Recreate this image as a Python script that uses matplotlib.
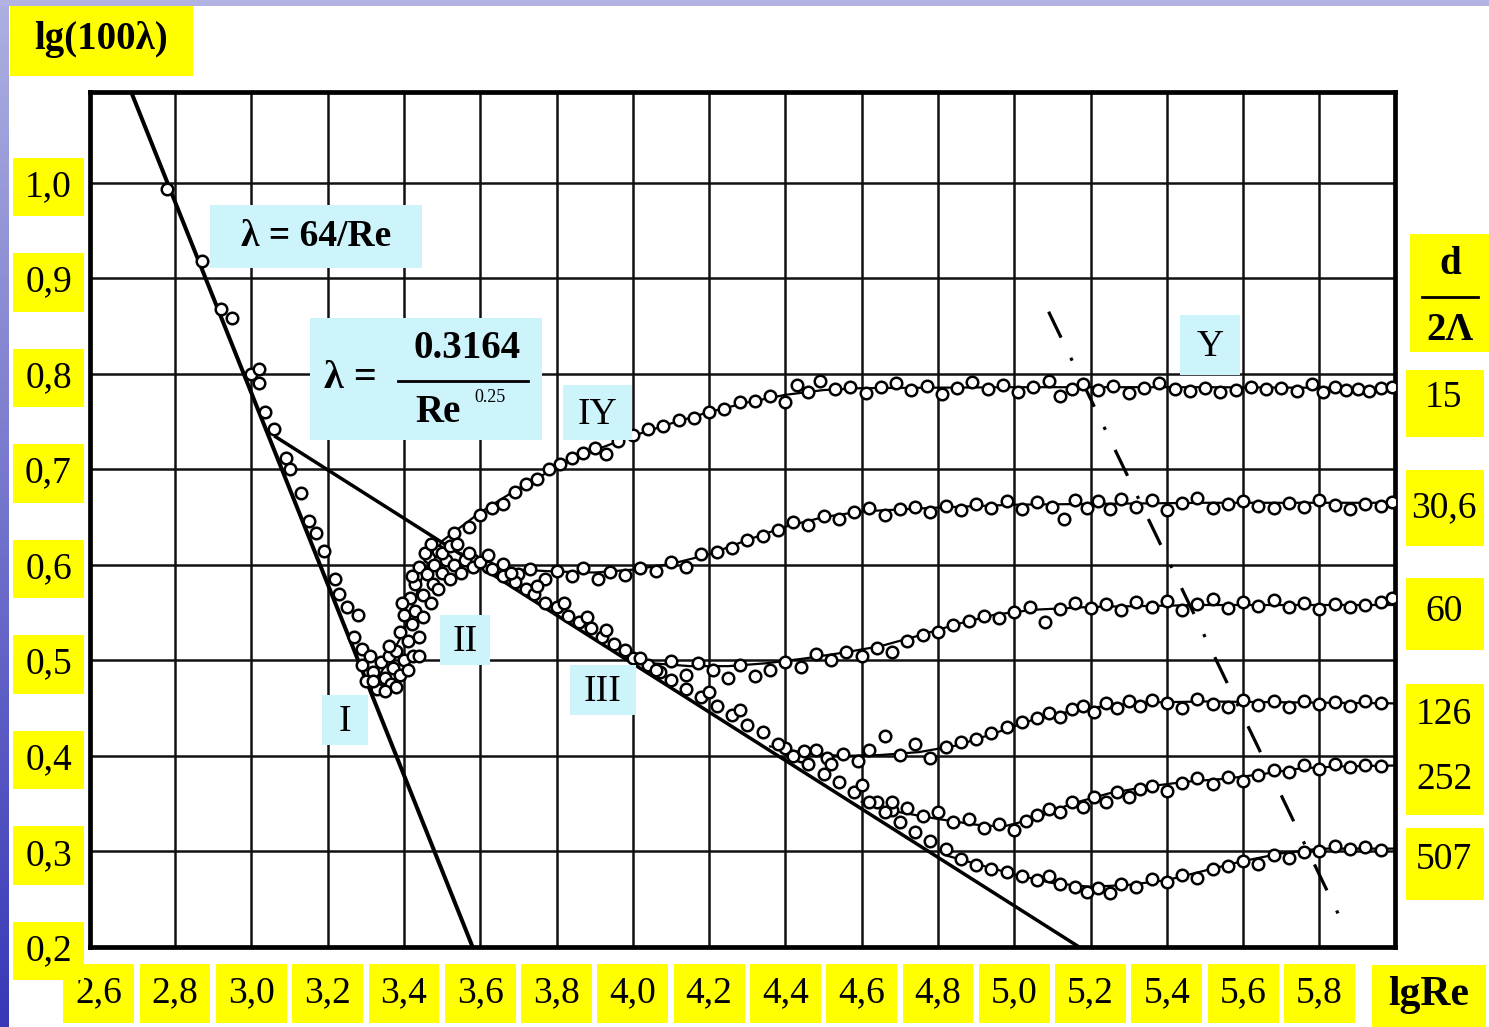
import numpy as np
import matplotlib
matplotlib.use("Agg")
import matplotlib.pyplot as plt

# ---------------- data ----------------
x_ticks = [2.6, 2.8, 3.0, 3.2, 3.4, 3.6, 3.8, 4.0, 4.2, 4.4, 4.6, 4.8, 5.0, 5.2, 5.4, 5.6, 5.8]
x_tick_labels = ["2,6", "2,8", "3,0", "3,2", "3,4", "3,6", "3,8", "4,0", "4,2", "4,4",
                 "4,6", "4,8", "5,0", "5,2", "5,4", "5,6", "5,8"]
y_ticks = [0.2, 0.3, 0.4, 0.5, 0.6, 0.7, 0.8, 0.9, 1.0]
y_tick_labels = ["0,2", "0,3", "0,4", "0,5", "0,6", "0,7", "0,8", "0,9", "1,0"]
grid_x = [2.8, 3.0, 3.2, 3.4, 3.6, 3.8, 4.0, 4.2, 4.4, 4.6, 4.8, 5.0, 5.2, 5.4, 5.6, 5.8]
grid_y = [0.3, 0.4, 0.5, 0.6, 0.7, 0.8, 0.9, 1.0]

# laminar law  lambda = 64/Re
laminar_x = [2.68, 3.58]
laminar_y = [1.10, 0.20]
# Blasius law  lambda = 0.3164/Re^0.25
blasius_x = [3.06, 5.17]
blasius_y = [0.735, 0.20]
# boundary of the quadratic zone (dash-dot)
boundary_x = [5.09, 5.85]
boundary_y = [0.865, 0.234]

# points on the laminar branch
lam_pts_x = [2.78, 2.87, 2.92, 2.95, 3.00, 3.02, 3.02, 3.035, 3.06, 3.09, 3.10, 3.13, 3.15,
             3.17, 3.19, 3.22, 3.23, 3.25, 3.28, 3.27, 3.29]
lam_pts_y = [0.993, 0.918, 0.868, 0.858, 0.800, 0.790, 0.805, 0.760, 0.742, 0.712, 0.700,
             0.675, 0.646, 0.633, 0.615, 0.585, 0.570, 0.556, 0.548, 0.525, 0.512]

# transition zone II points
tr_pts_x = [3.29, 3.30, 3.31, 3.32, 3.33, 3.34, 3.35, 3.36, 3.365, 3.37, 3.38, 3.39, 3.39,
            3.40, 3.40, 3.41, 3.415, 3.42, 3.425, 3.43, 3.43, 3.44, 3.44, 3.45, 3.45, 3.46,
            3.465, 3.47, 3.475, 3.48, 3.49, 3.49, 3.50, 3.51, 3.52, 3.53, 3.55, 3.56, 3.58,
            3.35, 3.38, 3.41, 3.36, 3.44, 3.32, 3.395, 3.42, 3.455, 3.47, 3.50, 3.52]
tr_pts_y = [0.495, 0.478, 0.505, 0.488, 0.470, 0.498, 0.482, 0.505, 0.475, 0.492, 0.510,
            0.485, 0.530, 0.500, 0.548, 0.520, 0.565, 0.538, 0.505, 0.580, 0.552, 0.525,
            0.598, 0.568, 0.545, 0.590, 0.608, 0.560, 0.580, 0.600, 0.615, 0.575, 0.592,
            0.605, 0.585, 0.600, 0.592, 0.605, 0.598, 0.468, 0.472, 0.490, 0.515, 0.505,
            0.478, 0.560, 0.588, 0.612, 0.622, 0.612, 0.620]

# points following the Blasius line
bl_pts_x = [3.54, 3.57, 3.60, 3.63, 3.66, 3.69, 3.72, 3.74, 3.77, 3.80, 3.83, 3.86, 3.89,
            3.92, 3.95, 3.98, 4.02, 4.06, 4.10, 4.14, 4.18, 4.22, 4.26, 4.30, 4.34, 4.38,
            4.42, 4.46, 4.50, 4.54, 4.58, 4.62, 4.66, 4.70, 4.74, 4.78, 4.82,
            3.62, 3.68, 3.75, 3.82, 3.88, 3.93, 4.20, 4.28, 4.45, 4.52, 4.60, 4.68]
bl_pts_y = [0.622, 0.612, 0.603, 0.596, 0.588, 0.582, 0.575, 0.569, 0.560, 0.556, 0.547,
            0.540, 0.534, 0.525, 0.517, 0.511, 0.502, 0.490, 0.480, 0.470, 0.462, 0.452,
            0.443, 0.432, 0.425, 0.413, 0.400, 0.392, 0.381, 0.373, 0.362, 0.352, 0.341,
            0.331, 0.320, 0.311, 0.303,
            0.610, 0.592, 0.578, 0.560, 0.545, 0.532, 0.467, 0.448, 0.405, 0.392, 0.370, 0.352]

# d/2Lambda = 15
c15_line_x = [3.33, 3.40, 3.45, 3.50, 3.60, 3.70, 3.80, 3.90, 4.00, 4.10, 4.20, 4.30, 4.40,
              4.50, 4.60, 5.00, 5.50, 6.00]
c15_line_y = [0.480, 0.530, 0.590, 0.625, 0.655, 0.680, 0.702, 0.720, 0.735, 0.748, 0.760,
              0.770, 0.778, 0.783, 0.785, 0.786, 0.786, 0.785]
c15_x = [3.53, 3.57, 3.60, 3.63, 3.66, 3.69, 3.72, 3.75, 3.78, 3.81, 3.84, 3.87, 3.90, 3.93,
         3.96, 4.00, 4.04, 4.08, 4.12, 4.16, 4.20, 4.24, 4.28, 4.32, 4.36, 4.40, 4.43, 4.46,
         4.49, 4.53, 4.57, 4.61, 4.65, 4.69, 4.73, 4.77, 4.81, 4.85, 4.89, 4.93, 4.97, 5.01,
         5.05, 5.09, 5.12, 5.15, 5.18, 5.22, 5.26, 5.30, 5.34, 5.38, 5.42, 5.46, 5.50, 5.54,
         5.58, 5.62, 5.66, 5.70, 5.74, 5.78, 5.81, 5.84, 5.87, 5.90, 5.93, 5.96, 5.99]
c15_y = [0.633, 0.640, 0.652, 0.660, 0.664, 0.676, 0.685, 0.690, 0.700, 0.706, 0.712, 0.717,
         0.722, 0.716, 0.730, 0.736, 0.742, 0.745, 0.752, 0.754, 0.760, 0.763, 0.770, 0.772,
         0.777, 0.770, 0.788, 0.781, 0.792, 0.784, 0.786, 0.780, 0.786, 0.790, 0.783, 0.787,
         0.779, 0.785, 0.791, 0.784, 0.788, 0.781, 0.786, 0.792, 0.777, 0.784, 0.789, 0.783,
         0.787, 0.780, 0.785, 0.790, 0.784, 0.782, 0.785, 0.781, 0.783, 0.786, 0.784, 0.785,
         0.782, 0.789, 0.781, 0.786, 0.783, 0.784, 0.782, 0.785, 0.786]

# d/2Lambda = 30,6
c30_line_x = [3.55, 3.60, 3.70, 3.80, 3.90, 4.00, 4.10, 4.20, 4.30, 4.40, 4.50, 4.60, 4.80,
              5.00, 5.50, 6.00]
c30_line_y = [0.612, 0.600, 0.595, 0.593, 0.592, 0.595, 0.601, 0.611, 0.626, 0.640, 0.650,
              0.656, 0.660, 0.663, 0.665, 0.665]
c30_x = [3.58, 3.62, 3.66, 3.70, 3.73, 3.77, 3.80, 3.84, 3.87, 3.91, 3.94, 3.98, 4.02, 4.06,
         4.10, 4.14, 4.18, 4.22, 4.26, 4.30, 4.34, 4.38, 4.42, 4.46, 4.50, 4.54, 4.58, 4.62,
         4.66, 4.70, 4.74, 4.78, 4.82, 4.86, 4.90, 4.94, 4.98, 5.02, 5.06, 5.10, 5.13, 5.16,
         5.19, 5.22, 5.25, 5.28, 5.32, 5.36, 5.40, 5.44, 5.48, 5.52, 5.56, 5.60, 5.64, 5.68,
         5.72, 5.76, 5.80, 5.84, 5.88, 5.92, 5.96, 5.99]
c30_y = [0.605, 0.598, 0.601, 0.590, 0.596, 0.585, 0.594, 0.588, 0.597, 0.585, 0.593, 0.589,
         0.597, 0.594, 0.603, 0.598, 0.611, 0.613, 0.618, 0.626, 0.630, 0.637, 0.645, 0.642,
         0.651, 0.648, 0.655, 0.660, 0.652, 0.658, 0.661, 0.655, 0.662, 0.657, 0.664, 0.660,
         0.667, 0.659, 0.666, 0.661, 0.648, 0.668, 0.660, 0.667, 0.658, 0.669, 0.661, 0.668,
         0.657, 0.665, 0.670, 0.660, 0.664, 0.667, 0.662, 0.660, 0.665, 0.661, 0.668, 0.663,
         0.659, 0.664, 0.662, 0.666]

# d/2Lambda = 60
c60_line_x = [3.97, 4.05, 4.15, 4.25, 4.35, 4.45, 4.55, 4.65, 4.75, 4.85, 4.95, 5.05, 5.20,
              5.50, 6.00]
c60_line_y = [0.505, 0.497, 0.494, 0.494, 0.497, 0.502, 0.508, 0.515, 0.526, 0.538, 0.548,
              0.553, 0.556, 0.558, 0.558]
c60_x = [4.00, 4.04, 4.07, 4.10, 4.14, 4.17, 4.21, 4.25, 4.28, 4.32, 4.36, 4.40, 4.44, 4.48,
         4.52, 4.56, 4.60, 4.64, 4.68, 4.72, 4.76, 4.80, 4.84, 4.88, 4.92, 4.96, 5.00, 5.04,
         5.08, 5.12, 5.16, 5.20, 5.24, 5.28, 5.32, 5.36, 5.40, 5.44, 5.48, 5.52, 5.56, 5.60,
         5.64, 5.68, 5.72, 5.76, 5.80, 5.84, 5.88, 5.92, 5.96, 5.99]
c60_y = [0.503, 0.495, 0.488, 0.499, 0.485, 0.497, 0.490, 0.482, 0.495, 0.484, 0.490, 0.498,
         0.493, 0.507, 0.500, 0.509, 0.505, 0.513, 0.509, 0.520, 0.527, 0.530, 0.537, 0.541,
         0.546, 0.544, 0.551, 0.556, 0.540, 0.554, 0.560, 0.555, 0.559, 0.553, 0.561, 0.556,
         0.562, 0.553, 0.559, 0.564, 0.555, 0.561, 0.557, 0.563, 0.556, 0.560, 0.554, 0.559,
         0.556, 0.558, 0.561, 0.565]

# d/2Lambda = 126
c126_line_x = [4.36, 4.45, 4.55, 4.65, 4.75, 4.85, 4.95, 5.05, 5.15, 5.25, 5.35, 5.50, 6.00]
c126_line_y = [0.410, 0.403, 0.400, 0.401, 0.404, 0.411, 0.424, 0.438, 0.447, 0.453, 0.456,
               0.457, 0.455]
c126_x = [4.40, 4.44, 4.48, 4.51, 4.55, 4.59, 4.62, 4.66, 4.70, 4.74, 4.78, 4.82, 4.86, 4.90,
          4.94, 4.98, 5.02, 5.06, 5.09, 5.12, 5.15, 5.18, 5.21, 5.24, 5.27, 5.30, 5.33, 5.36,
          5.40, 5.44, 5.48, 5.52, 5.56, 5.60, 5.64, 5.68, 5.72, 5.76, 5.80, 5.84, 5.88, 5.92,
          5.96]
c126_y = [0.408, 0.400, 0.406, 0.398, 0.402, 0.395, 0.406, 0.421, 0.401, 0.412, 0.398, 0.409,
          0.415, 0.418, 0.424, 0.430, 0.436, 0.440, 0.445, 0.441, 0.449, 0.452, 0.446, 0.455,
          0.450, 0.458, 0.452, 0.459, 0.455, 0.450, 0.460, 0.454, 0.451, 0.459, 0.453, 0.457,
          0.451, 0.458, 0.454, 0.456, 0.452, 0.457, 0.455]

# d/2Lambda = 252
c252_line_x = [4.60, 4.70, 4.80, 4.90, 4.97, 5.05, 5.15, 5.25, 5.35, 5.45, 5.55, 5.65, 5.75,
               5.85, 6.00]
c252_line_y = [0.352, 0.341, 0.334, 0.328, 0.326, 0.334, 0.350, 0.361, 0.368, 0.373, 0.376,
               0.381, 0.387, 0.389, 0.390]
c252_x = [4.64, 4.68, 4.72, 4.76, 4.80, 4.84, 4.88, 4.92, 4.96, 5.00, 5.03, 5.06, 5.09, 5.12,
          5.15, 5.18, 5.21, 5.24, 5.27, 5.30, 5.33, 5.36, 5.40, 5.44, 5.48, 5.52, 5.56, 5.60,
          5.64, 5.68, 5.72, 5.76, 5.80, 5.84, 5.88, 5.92, 5.96]
c252_y = [0.352, 0.343, 0.346, 0.337, 0.341, 0.331, 0.334, 0.325, 0.329, 0.322, 0.332, 0.338,
          0.344, 0.341, 0.352, 0.347, 0.357, 0.352, 0.362, 0.357, 0.365, 0.369, 0.363, 0.372,
          0.377, 0.371, 0.378, 0.374, 0.380, 0.385, 0.383, 0.390, 0.386, 0.392, 0.388, 0.391,
          0.389]

# d/2Lambda = 507
c507_line_x = [4.82, 4.90, 5.00, 5.10, 5.20, 5.30, 5.40, 5.50, 5.60, 5.70, 5.80, 6.00]
c507_line_y = [0.296, 0.287, 0.276, 0.267, 0.263, 0.265, 0.270, 0.280, 0.290, 0.298, 0.303,
               0.303]
c507_x = [4.86, 4.90, 4.94, 4.98, 5.02, 5.06, 5.09, 5.12, 5.16, 5.19, 5.22, 5.25, 5.28, 5.32,
          5.36, 5.40, 5.44, 5.48, 5.52, 5.56, 5.60, 5.64, 5.68, 5.72, 5.76, 5.80, 5.84, 5.88,
          5.92, 5.96]
c507_y = [0.292, 0.286, 0.282, 0.278, 0.274, 0.270, 0.274, 0.266, 0.263, 0.258, 0.262, 0.257,
          0.266, 0.263, 0.271, 0.268, 0.275, 0.272, 0.282, 0.285, 0.290, 0.287, 0.296, 0.293,
          0.299, 0.301, 0.306, 0.303, 0.305, 0.302]

# ---------------- figure ----------------
W, H = 1489, 1027
fig = plt.figure(figsize=(W / 100, H / 100), dpi=100, facecolor="white")

# slide background strips
bg = fig.add_axes([0, 0, 1, 1], zorder=-5)
bg.set_xlim(0, W); bg.set_ylim(H, 0); bg.axis("off")
grad = np.linspace(0, 1, 256).reshape(-1, 1)
left_cols = np.zeros((256, 1, 3))
top_c = np.array([0.68, 0.69, 0.88]); bot_c = np.array([0.22, 0.22, 0.72])
for i in range(256):
    left_cols[i, 0] = top_c * (1 - grad[i, 0]) + bot_c * grad[i, 0]
bg.imshow(left_cols, extent=[0, 9, H, 0], aspect="auto", interpolation="bilinear")
bg.add_patch(plt.Rectangle((0, 0), W, 6, color="#b2b3e2", lw=0))

SERIF = ["Liberation Serif", "DejaVu Serif"]

ax = fig.add_axes([90 / W, (H - 947) / H, 1305 / W, 855 / H])
ax.set_xlim(2.577, 5.998)
ax.set_ylim(0.2, 1.095)
ax.set_facecolor("white")
for g in grid_x:
    ax.axvline(g, color="#111111", lw=1.8, zorder=1)
for g in grid_y:
    ax.axhline(g, color="#111111", lw=1.8, zorder=1)
for s in ax.spines.values():
    s.set_linewidth(3.4)
    s.set_color("black")

ax.set_xticks(x_ticks)
ax.set_xticklabels(x_tick_labels)
ax.set_yticks(y_ticks)
ax.set_yticklabels(y_tick_labels)
ax.tick_params(axis="both", length=0)
ax.tick_params(axis="x", pad=21)
ax.tick_params(axis="y", pad=13)
for lbl in ax.get_xticklabels() + ax.get_yticklabels():
    lbl.set_fontfamily(SERIF)
    lbl.set_fontsize(27)
    lbl.set_bbox(dict(boxstyle="square,pad=0.32", fc="#ffff00", ec="none"))

# theoretical lines
ax.plot(laminar_x, laminar_y, color="black", lw=2.9, zorder=3, solid_capstyle="butt")
ax.plot(blasius_x, blasius_y, color="black", lw=2.5, zorder=3, solid_capstyle="butt")
ax.plot(boundary_x, boundary_y, color="black", lw=2.3, zorder=3,
        linestyle=(0, (9, 7, 1, 7)))

# experimental curves
curves = [
    (c15_line_x, c15_line_y, c15_x, c15_y),
    (c30_line_x, c30_line_y, c30_x, c30_y),
    (c60_line_x, c60_line_y, c60_x, c60_y),
    (c126_line_x, c126_line_y, c126_x, c126_y),
    (c252_line_x, c252_line_y, c252_x, c252_y),
    (c507_line_x, c507_line_y, c507_x, c507_y),
]
mk = dict(linestyle="none", marker="o", ms=8.3, mfc="white", mec="black", mew=1.8, zorder=4)
for lx, ly, px, py in curves:
    ax.plot(lx, ly, color="black", lw=1.6, zorder=2)
    ax.plot(px, py, **mk)
ax.plot(lam_pts_x, lam_pts_y, **mk)
ax.plot(tr_pts_x, tr_pts_y, **mk)
ax.plot(bl_pts_x, bl_pts_y, **mk)

# ---------------- overlay labels (pixel coordinates) ----------------
ov = fig.add_axes([0, 0, 1, 1], zorder=10)
ov.set_xlim(0, W); ov.set_ylim(H, 0); ov.axis("off")
ov.patch.set_alpha(0)

YEL = "#ffff00"
CYAN = "#cdf3fb"


def box(x0, y0, x1, y1, c):
    ov.add_patch(plt.Rectangle((x0, y0), x1 - x0, y1 - y0, color=c, lw=0))


def txt(x, y, s, size=27, bold=False, **kw):
    ov.text(x, y, s, ha="center", va="center", fontsize=size, family=SERIF,
            fontweight="bold" if bold else "normal", color="black", **kw)


# axis titles
box(10, 6, 193, 76, YEL)
txt(101, 40, "lg(100\u03bb)", size=28, bold=True)
box(1372, 965, 1486, 1027, YEL)
txt(1429, 995, "lgRe", size=30, bold=True)

# right-hand labels d/2Lambda
box(1410, 234, 1489, 352, YEL)
txt(1450, 265, "d", size=28, bold=True)
ov.plot([1422, 1478], [297, 297], color="black", lw=2)
txt(1450, 330, "2\u039b", size=28, bold=True)
right_labels = [("15", 398, 370, 437), ("30,6", 508, 470, 546), ("60", 612, 578, 650),
                ("126", 715, 684, 750), ("252", 780, 750, 815), ("507", 860, 828, 900)]
for s, yc, y0, y1 in right_labels:
    box(1406, y0, 1484, y1, YEL)
    txt(1444, yc, s, size=27)

# formula boxes
box(210, 205, 422, 268, CYAN)
txt(316, 236, "\u03bb = 64/Re", size=27, bold=True)

box(310, 318, 542, 440, CYAN)
txt(350, 379, "\u03bb =", size=29, bold=True)
txt(467, 349, "0.3164", size=28, bold=True)
ov.plot([398, 528], [381, 381], color="black", lw=2)
txt(438, 413, "Re", size=28, bold=True)
txt(490, 398, "0.25", size=13)

# regime labels
for s, x0, y0, x1, y1 in [("I", 322, 695, 368, 745), ("II", 440, 615, 490, 665),
                          ("III", 570, 665, 636, 715), ("IY", 563, 385, 632, 440),
                          ("Y", 1180, 315, 1240, 375)]:
    box(x0, y0, x1, y1, CYAN)
    txt((x0 + x1) / 2, (y0 + y1) / 2 + 2, s, size=27)

fig.savefig("out.png", dpi=100, facecolor="white")
